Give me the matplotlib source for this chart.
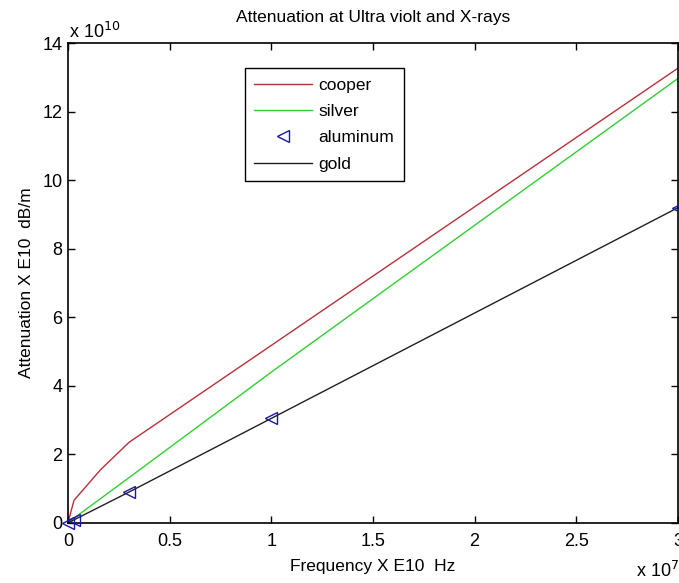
import matplotlib
matplotlib.use('Agg')
import matplotlib.pyplot as plt

plt.rcParams['font.family'] = ['Liberation Sans', 'DejaVu Sans']

# frequencies in Hz, attenuation in dB/m
f_cooper = [0, 3e5, 1.6e6, 3e6, 1e7, 3e7]
a_cooper = [0, 0.66e10, 1.55e10, 2.35e10, 5.18e10, 13.27e10]
f_silver = [0, 3e5, 3e6, 1e7, 3e7]
a_silver = [0, 0.14e10, 1.32e10, 4.4e10, 12.97e10]
f_alu = [0, 3e5, 3e6, 1e7, 3e7]
a_alu = [0, 0.09e10, 0.9e10, 3.05e10, 9.2e10]
f_gold = [0, 3e5, 3e6, 1e7, 3e7]
a_gold = [0, 0.09e10, 0.9e10, 3.05e10, 9.2e10]

xsc = 1e7
ysc = 1e10

fig = plt.figure(figsize=(6.79, 5.83), dpi=100)
ax = fig.add_axes([0.100, 0.103, 0.8985, 0.823])

ax.plot([v/xsc for v in f_cooper], [v/ysc for v in a_cooper], color='#b8303a', lw=1, label='cooper')
ax.plot([v/xsc for v in f_silver], [v/ysc for v in a_silver], color='#30d030', lw=1, label='silver')
ax.plot([v/xsc for v in f_alu], [v/ysc for v in a_alu], ls='none', marker='<', ms=8,
        mfc='none', mec='#1a1aa0', mew=1, label='aluminum', clip_on=False, zorder=3)
ax.plot([v/xsc for v in f_gold], [v/ysc for v in a_gold], color='#202020', lw=1, label='gold')

ax.set_xlim(0, 3)
ax.set_ylim(0, 14)
ax.set_xticks([0, 0.5, 1, 1.5, 2, 2.5, 3])
ax.set_xticklabels(['0', '0.5', '1', '1.5', '2', '2.5', '3'])
ax.set_yticks(range(0, 15, 2))
ax.tick_params(direction='in', top=True, right=True, labelsize=13, length=5, width=1, pad=4)
ax.tick_params(axis='x', pad=7)
for s in ax.spines.values():
    s.set_linewidth(1.2)

fs = 12.5
ax.set_title('Attenuation at Ultra violt and X-rays', fontsize=fs, pad=15)
ax.set_xlabel('Frequency X E10  Hz', fontsize=fs, labelpad=7)
ax.set_ylabel('Attenuation X E10  dB/m', fontsize=fs, labelpad=6)

fig.text(69/679, 1 - 32/583, r'x 10$^{10}$', fontsize=13, va='center', ha='left')
fig.text(636/679, 1 - 571/583, r'x 10$^{7}$', fontsize=13, va='center', ha='left')

leg = ax.legend(loc='upper left', bbox_to_anchor=(0.29, 0.948), fontsize=fs,
                fancybox=False, framealpha=1, edgecolor='black', handlelength=3.3,
                labelspacing=0.64, borderpad=0.55, handletextpad=0.4, borderaxespad=0)
leg.get_frame().set_linewidth(1)

fig.savefig('out.png', dpi=100)
